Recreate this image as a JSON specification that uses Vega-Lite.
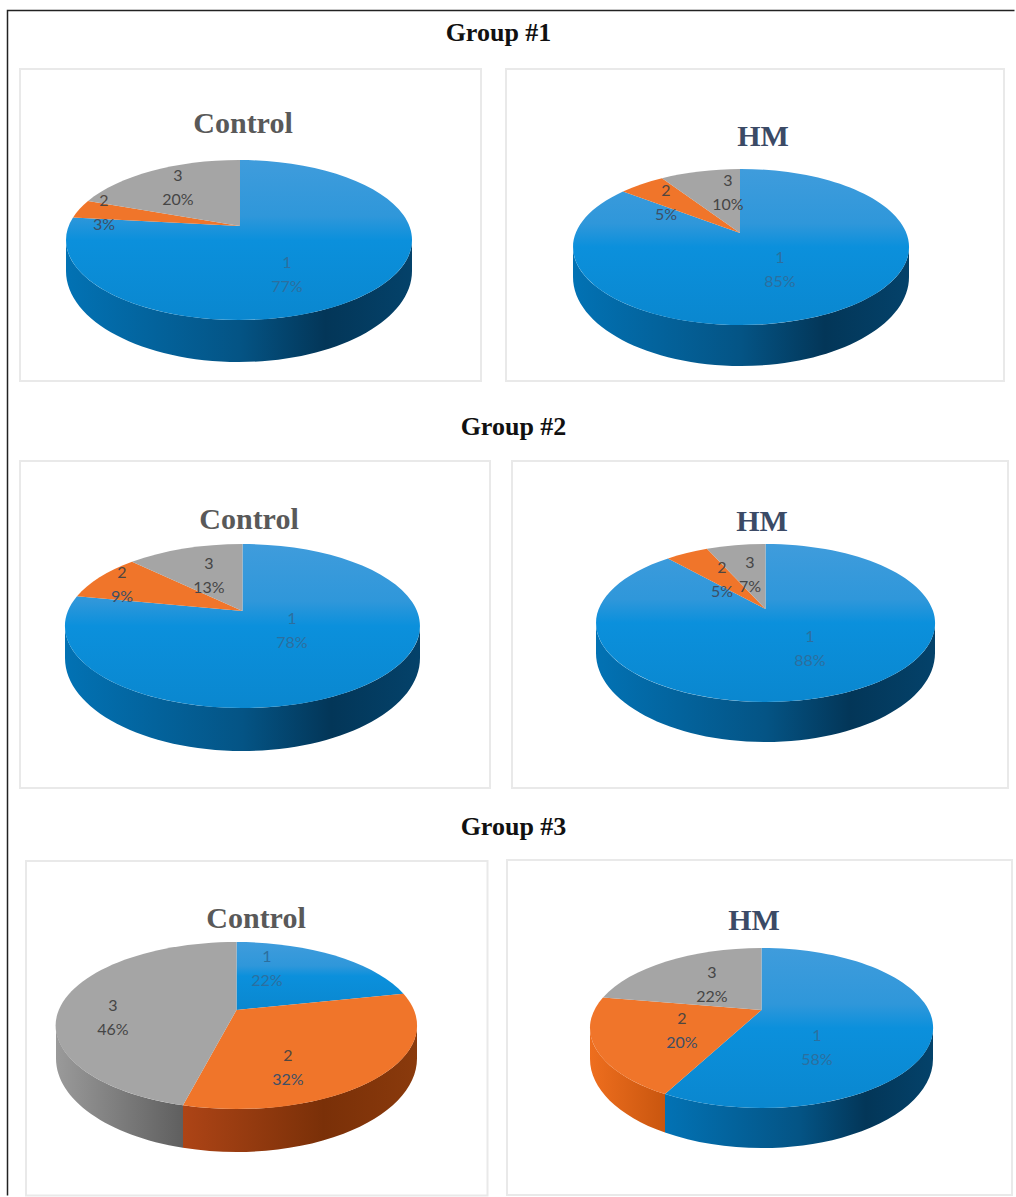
{"$schema":"https://vega.github.io/schema/vega-lite/v6.json","width":1016,"height":1197,"padding":0,"autosize":{"type":"fit","contains":"padding"},"background":"white","config":{"view":{"stroke":null}},
"datasets":{
"slices":[
{"pie":1,"sliceId":1,"group":"Group #1","panel":"Control","slice":1,"value":0.77},
{"pie":1,"sliceId":2,"group":"Group #1","panel":"Control","slice":2,"value":0.03},
{"pie":1,"sliceId":3,"group":"Group #1","panel":"Control","slice":3,"value":0.20},
{"pie":2,"sliceId":4,"group":"Group #1","panel":"HM","slice":1,"value":0.85},
{"pie":2,"sliceId":5,"group":"Group #1","panel":"HM","slice":2,"value":0.05},
{"pie":2,"sliceId":6,"group":"Group #1","panel":"HM","slice":3,"value":0.10},
{"pie":3,"sliceId":7,"group":"Group #2","panel":"Control","slice":1,"value":0.78},
{"pie":3,"sliceId":8,"group":"Group #2","panel":"Control","slice":2,"value":0.09},
{"pie":3,"sliceId":9,"group":"Group #2","panel":"Control","slice":3,"value":0.13},
{"pie":4,"sliceId":10,"group":"Group #2","panel":"HM","slice":1,"value":0.88},
{"pie":4,"sliceId":11,"group":"Group #2","panel":"HM","slice":2,"value":0.05},
{"pie":4,"sliceId":12,"group":"Group #2","panel":"HM","slice":3,"value":0.07},
{"pie":5,"sliceId":13,"group":"Group #3","panel":"Control","slice":1,"value":0.22},
{"pie":5,"sliceId":14,"group":"Group #3","panel":"Control","slice":2,"value":0.32},
{"pie":5,"sliceId":15,"group":"Group #3","panel":"Control","slice":3,"value":0.46},
{"pie":6,"sliceId":16,"group":"Group #3","panel":"HM","slice":1,"value":0.58},
{"pie":6,"sliceId":17,"group":"Group #3","panel":"HM","slice":2,"value":0.20},
{"pie":6,"sliceId":18,"group":"Group #3","panel":"HM","slice":3,"value":0.22}],
"panels":[{"pie":1,"panel":"Control"},{"pie":2,"panel":"HM"},{"pie":3,"panel":"Control"},{"pie":4,"panel":"HM"},{"pie":5,"panel":"Control"},{"pie":6,"panel":"HM"}],
"groups":[{"groupIndex":1,"group":"Group #1"},{"groupIndex":2,"group":"Group #2"},{"groupIndex":3,"group":"Group #3"}]},
"resolve":{"scale":{"x":"independent","y":"independent","shape":"independent","color":"independent"}},
"layer":[
{"data":{"values":[{"frame":"outer"}]},"mark":{"type":"point","filled":false,"opacity":1,"size":4,"stroke":"#222222","strokeWidth":1.5,"shape":"M-499,598.5L-499,-586.5L508,-586.5"},"encoding":{}},
{"data":{"name":"panels"},"mark":{"type":"point","filled":false,"opacity":1,"size":4,"stroke":"#e9e9e9","strokeWidth":2},
"encoding":{"x":{"field":"pie","type":"quantitative","axis":null,"scale":{"domain":[1,2,3,4,5,6],"range":[239,741,242.5,765.5,236.5,761.5],"zero":false,"nice":false}},
"y":{"field":"pie","type":"quantitative","axis":null,"scale":{"domain":[1,2,3,4,5,6],"range":[240,247,626,623,1025.5,1028],"zero":false,"nice":false}},
"shape":{"field":"pie","type":"nominal","legend":null,"scale":{"domain":[1,2,3,4,5,6],"range":["M-219,-171L242,-171L242,141L-219,141Z","M-235,-178L263,-178L263,134L-235,134Z","M-222.5,-165L247.5,-165L247.5,162L-222.5,162Z","M-253.5,-162L242.5,-162L242.5,165L-253.5,165Z","M-210.5,-164.5L251,-164.5L251,170L-210.5,170Z","M-254.5,-168L250.5,-168L250.5,167L-254.5,167Z"]}}}},
{"data":{"name":"groups"},"mark":{"type":"text","font":"Liberation Serif","fontWeight":"bold","fontSize":26,"color":"#111111","align":"center","baseline":"middle"},
"encoding":{"text":{"field":"group"},"x":{"field":"groupIndex","type":"quantitative","axis":null,"scale":{"domain":[1,2,3],"range":[498.5,513.5,513.5],"zero":false,"nice":false}},
"y":{"field":"groupIndex","type":"quantitative","axis":null,"scale":{"domain":[1,2,3],"range":[33,427,827],"zero":false,"nice":false}}}},
{"data":{"name":"panels"},"mark":{"type":"text","font":"Liberation Serif","fontWeight":"bold","fontSize":30,"align":"center","baseline":"middle"},
"encoding":{"text":{"field":"panel"},"x":{"field":"pie","type":"quantitative","axis":null,"scale":{"domain":[1,2,3,4,5,6],"range":[243,763,249,762,256,754],"zero":false,"nice":false}},
"y":{"field":"pie","type":"quantitative","axis":null,"scale":{"domain":[1,2,3,4,5,6],"range":[124,137,520,522,919,921],"zero":false,"nice":false}},
"color":{"field":"panel","type":"nominal","legend":null,"scale":{"domain":["Control","HM"],"range":["#595959","#3b4a66"]}}}},
{"data":{"name":"slices"},"transform":[{"filter":{"field":"sliceId","oneOf":[1,4,7,10,16]}}],
"mark":{"type":"point","filled":true,"opacity":1,"size":4,"strokeWidth":0,"fill":{"gradient":"linear","x1":0,"y1":0,"x2":1,"y2":0,"stops":[{"offset":0,"color":"#0272b4"},{"offset":0.5,"color":"#045485"},{"offset":0.75,"color":"#033658"},{"offset":1,"color":"#04426a"}]}},
"encoding":{"x":{"field":"pie","type":"quantitative","axis":null,"scale":{"domain":[1,2,3,4,5,6],"range":[239,741,242.5,765.5,236.5,761.5],"zero":false,"nice":false}},
"y":{"field":"pie","type":"quantitative","axis":null,"scale":{"domain":[1,2,3,4,5,6],"range":[240,247,626,623,1025.5,1028],"zero":false,"nice":false}},
"shape":{"field":"sliceId","type":"nominal","legend":null,"scale":{"domain":[1,4,7,10,16],"range":["M-173,0A173 80 0 0 0 173,0L173,31A173 91 0 0 1 -173,31Z","M-168,0A168 78 0 0 0 168,0L168,30A168 89 0 0 1 -168,30Z","M-177.5,0A177.5 82 0 0 0 177.5,0L177.5,32A177.5 93 0 0 1 -177.5,32Z","M-169.5,0A169.5 79 0 0 0 169.5,0L169.5,30A169.5 89 0 0 1 -169.5,30Z","M171.5,0A171.5 80 0 0 1 -96.5,66.1L-96.5,104.6A171.5 89 0 0 0 171.5,31Z"]}}}},
{"data":{"name":"slices"},"transform":[{"filter":{"field":"sliceId","oneOf":[14]}}],
"mark":{"type":"point","filled":true,"opacity":1,"size":4,"strokeWidth":0,"fill":{"gradient":"linear","x1":0,"y1":0,"x2":1,"y2":0,"stops":[{"offset":0,"color":"#ad4416"},{"offset":0.6,"color":"#7a3008"},{"offset":1,"color":"#8a3a0c"}]}},
"encoding":{"x":{"field":"pie","type":"quantitative","axis":null,"scale":{"domain":[1,2,3,4,5,6],"range":[239,741,242.5,765.5,236.5,761.5],"zero":false,"nice":false}},
"y":{"field":"pie","type":"quantitative","axis":null,"scale":{"domain":[1,2,3,4,5,6],"range":[240,247,626,623,1025.5,1028],"zero":false,"nice":false}},
"shape":{"field":"sliceId","type":"nominal","legend":null,"scale":{"domain":[14],"range":["M180.5,0A180.5 83.5 0 0 1 -53.5,79.8L-53.5,122.3A180.5 93.5 0 0 0 180.5,33Z"]}}}},
{"data":{"name":"slices"},"transform":[{"filter":{"field":"sliceId","oneOf":[17]}}],
"mark":{"type":"point","filled":true,"opacity":1,"size":4,"strokeWidth":0,"fill":{"gradient":"linear","x1":0,"y1":0,"x2":1,"y2":0,"stops":[{"offset":0,"color":"#ee6e1e"},{"offset":1,"color":"#c9560f"}]}},
"encoding":{"x":{"field":"pie","type":"quantitative","axis":null,"scale":{"domain":[1,2,3,4,5,6],"range":[239,741,242.5,765.5,236.5,761.5],"zero":false,"nice":false}},
"y":{"field":"pie","type":"quantitative","axis":null,"scale":{"domain":[1,2,3,4,5,6],"range":[240,247,626,623,1025.5,1028],"zero":false,"nice":false}},
"shape":{"field":"sliceId","type":"nominal","legend":null,"scale":{"domain":[17],"range":["M-171.5,0A171.5 80 0 0 0 -96.5,66.1L-96.5,104.6A171.5 89 0 0 1 -171.5,31Z"]}}}},
{"data":{"name":"slices"},"transform":[{"filter":{"field":"sliceId","oneOf":[15]}}],
"mark":{"type":"point","filled":true,"opacity":1,"size":4,"strokeWidth":0,"fill":{"gradient":"linear","x1":0,"y1":0,"x2":1,"y2":0,"stops":[{"offset":0,"color":"#9a9a9a"},{"offset":1,"color":"#5f5f5f"}]}},
"encoding":{"x":{"field":"pie","type":"quantitative","axis":null,"scale":{"domain":[1,2,3,4,5,6],"range":[239,741,242.5,765.5,236.5,761.5],"zero":false,"nice":false}},
"y":{"field":"pie","type":"quantitative","axis":null,"scale":{"domain":[1,2,3,4,5,6],"range":[240,247,626,623,1025.5,1028],"zero":false,"nice":false}},
"shape":{"field":"sliceId","type":"nominal","legend":null,"scale":{"domain":[15],"range":["M-180.5,0A180.5 83.5 0 0 0 -53.5,79.8L-53.5,122.3A180.5 93.5 0 0 1 -180.5,33Z"]}}}},
{"data":{"name":"slices"},"transform":[{"filter":{"field":"slice","equal":1}}],
"mark":{"type":"point","filled":true,"opacity":1,"size":4,"strokeWidth":0,"fill":{"gradient":"linear","x1":0,"y1":0,"x2":0,"y2":1,"stops":[{"offset":0,"color":"#3f9cdc"},{"offset":0.35,"color":"#2f97da"},{"offset":0.5,"color":"#0b90dc"},{"offset":1,"color":"#0a87cf"}]}},
"encoding":{"x":{"field":"pie","type":"quantitative","axis":null,"scale":{"domain":[1,2,3,4,5,6],"range":[239,741,242.5,765.5,236.5,761.5],"zero":false,"nice":false}},
"y":{"field":"pie","type":"quantitative","axis":null,"scale":{"domain":[1,2,3,4,5,6],"range":[240,247,626,623,1025.5,1028],"zero":false,"nice":false}},
"shape":{"field":"sliceId","type":"nominal","legend":null,"scale":{"domain":[1,4,7,10,13,16],"range":["M1,-14L1,-80A173 80 0 1 1 -166,-22.5Z","M-1,-14L-1,-78A168 78 0 1 1 -118,-55.5Z","M0,-15L0,-82A177.5 82 0 1 1 -165.5,-29.7Z","M0,-14L0,-79A169.5 79 0 1 1 -97.5,-64.6Z","M0,-15.5L0,-83.5A180.5 83.5 0 0 1 167,-31.7Z","M0,-18L0,-80A171.5 80 0 1 1 -96.5,66.1Z"]}}}},
{"data":{"name":"slices"},"transform":[{"filter":{"field":"slice","equal":2}}],
"mark":{"type":"point","filled":true,"opacity":1,"size":4,"strokeWidth":0,"fill":"#f0752a"},
"encoding":{"x":{"field":"pie","type":"quantitative","axis":null,"scale":{"domain":[1,2,3,4,5,6],"range":[239,741,242.5,765.5,236.5,761.5],"zero":false,"nice":false}},
"y":{"field":"pie","type":"quantitative","axis":null,"scale":{"domain":[1,2,3,4,5,6],"range":[240,247,626,623,1025.5,1028],"zero":false,"nice":false}},
"shape":{"field":"sliceId","type":"nominal","legend":null,"scale":{"domain":[2,5,8,11,14,17],"range":["M1,-14L-166,-22.5A173 80 0 0 1 -151,-39Z","M-1,-14L-118,-55.5A168 78 0 0 1 -79,-68.8Z","M0,-15L-165.5,-29.7A177.5 82 0 0 1 -110.5,-64.2Z","M0,-14L-97.5,-64.6A169.5 79 0 0 1 -58.5,-74.2Z","M0,-15.5L167,-31.7A180.5 83.5 0 0 1 -53.5,79.8Z","M0,-18L-96.5,66.1A171.5 80 0 0 1 -158.5,-30.6Z"]}}}},
{"data":{"name":"slices"},"transform":[{"filter":{"field":"slice","equal":3}}],
"mark":{"type":"point","filled":true,"opacity":1,"size":4,"strokeWidth":0,"fill":"#a5a5a5"},
"encoding":{"x":{"field":"pie","type":"quantitative","axis":null,"scale":{"domain":[1,2,3,4,5,6],"range":[239,741,242.5,765.5,236.5,761.5],"zero":false,"nice":false}},
"y":{"field":"pie","type":"quantitative","axis":null,"scale":{"domain":[1,2,3,4,5,6],"range":[240,247,626,623,1025.5,1028],"zero":false,"nice":false}},
"shape":{"field":"sliceId","type":"nominal","legend":null,"scale":{"domain":[3,6,9,12,15,18],"range":["M1,-14L-151,-39A173 80 0 0 1 1,-80Z","M-1,-14L-79,-68.8A168 78 0 0 1 -1,-78Z","M0,-15L-110.5,-64.2A177.5 82 0 0 1 0,-82Z","M0,-14L-58.5,-74.2A169.5 79 0 0 1 0,-79Z","M0,-15.5L-53.5,79.8A180.5 83.5 0 0 1 0,-83.5Z","M0,-18L-158.5,-30.6A171.5 80 0 0 1 0,-80Z"]}}}},
{"data":{"name":"slices"},"mark":{"type":"text","font":"Lato","fontSize":16,"align":"center","baseline":"middle","dy":-12},
"encoding":{"text":{"field":"slice"},"x":{"field":"sliceId","type":"quantitative","axis":null,"scale":{"domain":[1,2,3,4,5,6,7,8,9,10,11,12,13,14,15,16,17,18],"range":[287,104,178,780,666,728,292,122,209,810,722,750,267,288,113,817,682,712],"zero":false,"nice":false}},
"y":{"field":"sliceId","type":"quantitative","axis":null,"scale":{"domain":[1,2,3,4,5,6,7,8,9,10,11,12,13,14,15,16,17,18],"range":[275,213,188,270,203,193,631,585,576,649,580,575,969,1068,1018,1048,1031,985],"zero":false,"nice":false}},
"color":{"field":"slice","type":"nominal","legend":null,"scale":{"domain":[1,2,3],"range":["#2c6f9f","#4f4640","#454545"]}}}},
{"data":{"name":"slices"},"mark":{"type":"text","font":"Lato","fontSize":16,"align":"center","baseline":"middle","dy":12},
"encoding":{"text":{"field":"value","format":".0%"},"x":{"field":"sliceId","type":"quantitative","axis":null,"scale":{"domain":[1,2,3,4,5,6,7,8,9,10,11,12,13,14,15,16,17,18],"range":[287,104,178,780,666,728,292,122,209,810,722,750,267,288,113,817,682,712],"zero":false,"nice":false}},
"y":{"field":"sliceId","type":"quantitative","axis":null,"scale":{"domain":[1,2,3,4,5,6,7,8,9,10,11,12,13,14,15,16,17,18],"range":[275,213,188,270,203,193,631,585,576,649,580,575,969,1068,1018,1048,1031,985],"zero":false,"nice":false}},
"color":{"field":"slice","type":"nominal","legend":null,"scale":{"domain":[1,2,3],"range":["#2c6f9f","#3d4f66","#454545"]}}}}
]}
